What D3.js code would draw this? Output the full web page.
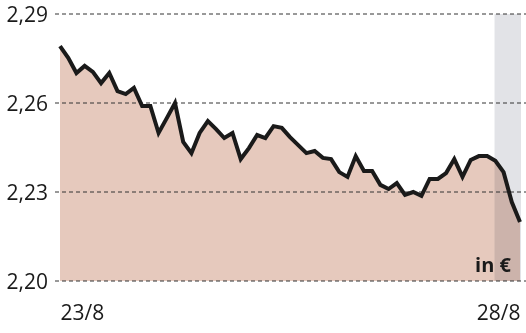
<!DOCTYPE html>
<html>
<head>
<meta charset="utf-8">
<script src="https://cdn.jsdelivr.net/npm/d3@7"></script>
<style>
  html, body { margin: 0; padding: 0; background: #fff; }
  svg { display: block; }
  text { font-family: "Open Sans", sans-serif; fill: #1a1a1a; }
</style>
</head>
<body>
<svg id="chart" width="526" height="333"></svg>
<script>
// Data
const values = [
  2.2792, 2.2752, 2.2701, 2.2725, 2.2705, 2.2667, 2.2701, 2.2640, 2.2630, 2.2651,
  2.2590, 2.2590, 2.2499, 2.2549, 2.2600, 2.2469, 2.2431, 2.2499, 2.2539, 2.2512,
  2.2482, 2.2499, 2.2411, 2.2448, 2.2492, 2.2482, 2.2522, 2.2516, 2.2485, 2.2458,
  2.2431, 2.2438, 2.2415, 2.2411, 2.2367, 2.2351, 2.2421, 2.2371, 2.2371, 2.2324,
  2.2310, 2.2330, 2.2290, 2.2300, 2.2287, 2.2344, 2.2344, 2.2364, 2.2411, 2.2351,
  2.2408, 2.2421, 2.2421, 2.2405, 2.2367, 2.2266, 2.2199
];
const yTicks = [2.20, 2.23, 2.26, 2.29];
const xLabels = ["23/8", "28/8"];
const highlightStart = 52.9; // index where shaded band begins (last day)

const svg = d3.select("#chart");
const x = d3.scaleLinear().domain([0, values.length - 1]).range([60, 520]);
const y = d3.scaleLinear().domain([2.20, 2.29]).range([281, 14]);
const fmt = v => d3.format(".2f")(v).replace(".", ",");

// Area
const area = d3.area().x((d, i) => x(i)).y0(y(2.20)).y1(d => y(d));
svg.append("path").datum(values).attr("d", area).attr("fill", "#e6c9bd");

// Shaded band (last day)
svg.append("rect")
  .attr("x", x(highlightStart)).attr("y", y(2.29))
  .attr("width", 521 - x(highlightStart)).attr("height", y(2.20) - y(2.29))
  .attr("fill", "#e2e3e7").style("mix-blend-mode", "multiply");

// Grid lines
const yAxis = d3.axisLeft(y).tickValues(yTicks).tickSize(0).tickFormat(fmt);
svg.append("g").selectAll("line").data(yTicks).join("line")
  .attr("x1", 55).attr("x2", 526)
  .attr("y1", d => y(d)).attr("y2", d => y(d))
  .attr("stroke", "#333").attr("stroke-width", 1)
  .attr("stroke-dasharray", "4,3");

// Y tick labels
const gy = svg.append("g").attr("transform", "translate(48,0)").call(yAxis);
gy.select(".domain").remove();
gy.selectAll("text")
  .attr("x", 0).attr("dy", "0.36em")
  .style("font-family", "'Open Sans', sans-serif")
  .style("font-size", "21px").style("fill", "#1a1a1a");

// Line
const line = d3.line().x((d, i) => x(i)).y(d => y(d));
svg.append("path").datum(values).attr("d", line)
  .attr("fill", "none").attr("stroke", "#1a1a1a")
  .attr("stroke-width", 4).attr("stroke-linejoin", "miter").attr("stroke-linecap", "butt");

// X labels
const xAxis = d3.axisBottom(x).tickValues([0, values.length - 1]).tickSize(0)
  .tickFormat((d, i) => xLabels[i]);
const gx = svg.append("g").attr("transform", "translate(0,300)").call(xAxis);
gx.select(".domain").remove();
gx.selectAll("text")
  .attr("y", 0).attr("dy", "0.95em")
  .attr("text-anchor", (d, i) => i === 0 ? "start" : "end")
  .style("font-family", "'Open Sans', sans-serif")
  .style("font-size", "21px").style("fill", "#1a1a1a");

// Unit label
svg.append("text").attr("x", 511).attr("y", 272).attr("text-anchor", "end")
  .style("font-size", "20px").style("font-weight", "700").text("in €");
</script>
</body>
</html>
